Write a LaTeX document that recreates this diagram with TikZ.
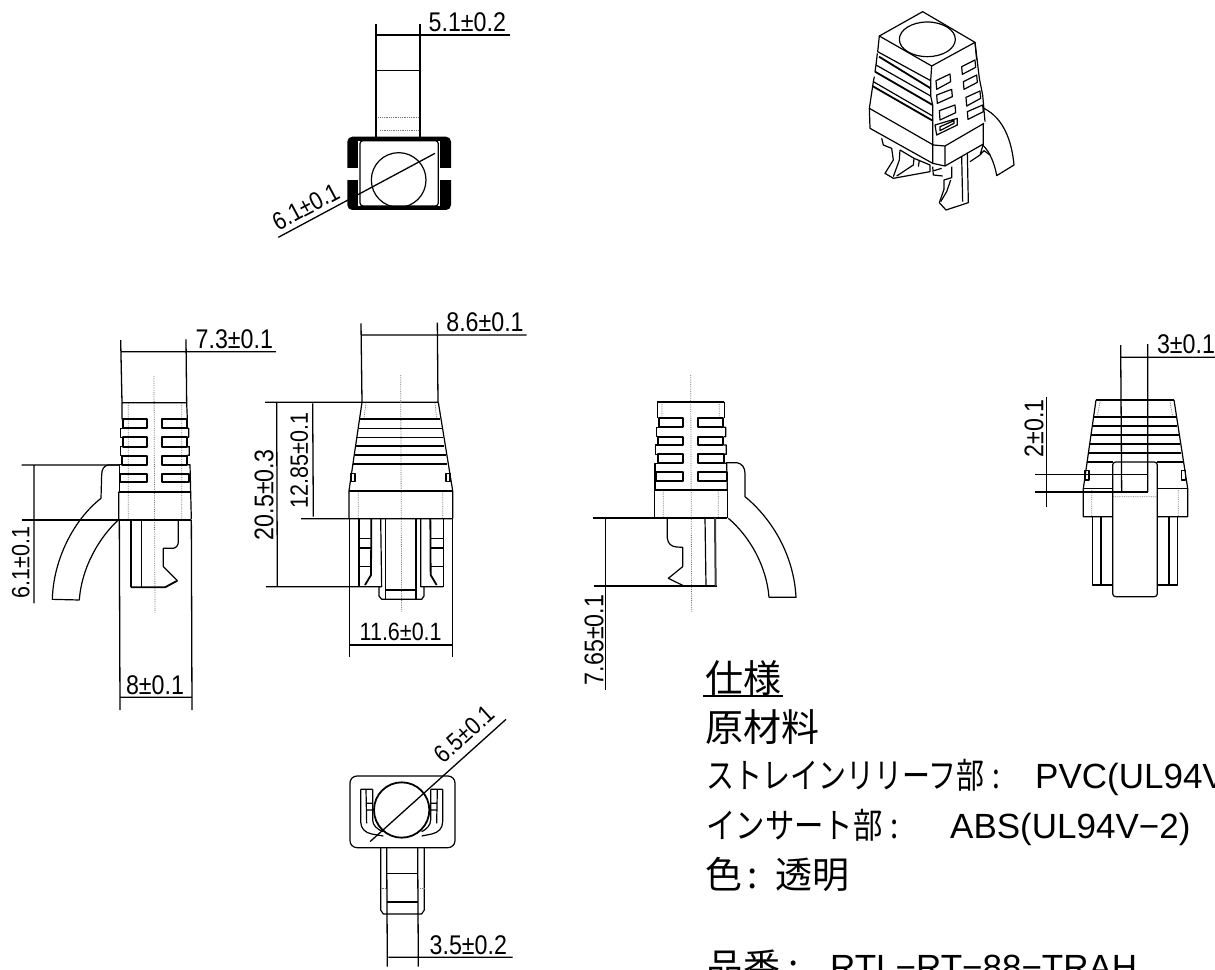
\documentclass[tikz,border=0pt]{standalone}
\usepackage{fontspec}
\setmainfont{Liberation Sans}
\newfontfamily\dimf[FakeStretch=0.86]{Liberation Sans}
\newfontfamily\cjk{Noto Sans CJK JP}
\newfontfamily\cjkn[FakeStretch=0.8]{Noto Sans CJK JP}
\newfontfamily\cjkm[FakeStretch=0.84]{Noto Sans CJK JP}
\tikzset{
 ln/.style={line width=1.2pt,black,line join=round},
 hv/.style={line width=1.8pt,black,line join=round},
 dl/.style={line width=1.3pt,black},
 cl/.style={line width=.8pt,black!55,densely dotted},
 lbl/.style={inner sep=0pt,font=\dimf\fontsize{27}{27}\selectfont},
 lbs/.style={inner sep=0pt,font=\dimf\fontsize{25}{27}\selectfont},
 spec/.style={inner sep=0pt,anchor=base west},
 pv/.style={shift={(#1)},scale=1/3},
}
\begin{document}
\begin{tikzpicture}[x=1pt,y=-1pt]
\path[use as bounding box,clip] (0,0) rectangle (1215,969);
\fill[white] (0,0) rectangle (1215,969);

% ---- top view
\begin{scope}[pv={260,0}]
\draw[dl] (348,72)--(348,410) (480,72)--(480,410) (348,105)--(750,105);
\draw[ln] (352,211)--(482,211);
\draw[cl] (355,352)--(475,352) (360,392)--(475,392);
\fill[black,rounded corners=5pt] (262,410) rectangle (573,630);
\fill[white] (295,422) rectangle (540,618);
\fill[white] (258,505) rectangle (298,540);
\fill[white] (537,505) rectangle (577,540);
\draw[ln,fill=white,rounded corners=3pt] (300,422) rectangle (535,618);
\draw[ln] (416,540) circle [radius=82];
\draw[dl] (525,460)--(55,712);
\node[lbl] (t51) at (622,66) {5.1±0.2};
\node[lbs,rotate=28] (t61) at (137,620) {6.1±0.1};
\end{scope}

% ---- 3D view
\begin{scope}[pv={840,10}]
\draw[ln] (118,78)--(248,5)--(405,97)--(275,168)--cycle;
\draw[ln] (262,88) ellipse [x radius=84,y radius=52];
\draw[ln] (118,78)--(113,125)--(272,212)--(275,168) (405,97)--(410,150);
\draw[hv] (117,140)--(272,235);
\draw[ln] (112,130)--(108,165)--(272,258)--(272,212);
\draw[hv] (105,185)--(278,285);
\draw[ln] (108,165)--(105,185) (272,258)--(278,285);
\draw[ln] (103,200)--(100,215)--(278,318);
\draw[hv] (97,228)--(278,332);
\draw[ln] (100,215)--(88,295)--(280,405);
\draw[ln] (88,295)--(90,355)--(278,460)--(315,468)--(430,402)--(430,340);
\draw[ln] (278,285)--(278,460) (315,408)--(315,468) (280,405)--(315,408)--(432,340);
\draw[ln] (405,97)--(412,155)--(418,205)--(428,255)--(435,335);
\foreach \a/\b/\c/\d/\e/\f/\g/\h in {365/170/405/150/407/172/367/193,370/215/410/195/412/217/372/238,378/262/420/243/422/265/380/288,382/305/428/285/430/305/384/328,288/212/330/192/332/215/290/238,290/255/335/238/337/260/292/280,298/302/345/285/347/308/300/330}
 \draw[ln] (\a,\b)--(\c,\d)--(\e,\f)--(\g,\h)--cycle;
\draw[ln] (285,345)--(352,325)--(352,345)--(290,375)--cycle (300,350)--(342,332)--(342,340)--(300,362)--cycle;
\draw[ln] (432,295) .. controls (490,325) and (515,390) .. (522,465)--(470,497) .. controls (465,465) and (450,425) .. (428,405);
\draw[ln] (420,435)--(432,422)--(450,435) (430,402)--(420,435)--(390,455);
\draw[ln] (382,428)--(385,578)--(318,600)--(298,578)--(312,538)--(312,510)--(335,503)--(335,470);
\draw[ln] (365,440)--(368,575) (302,575)--(320,545)--(332,510);
\draw[ln] (278,470)--(280,495)--(308,498) (282,482)--(305,475);
\draw[ln] (125,385)--(130,405)--(155,415)--(160,450)--(135,490)--(160,505)--(270,485)--(270,465)--(222,445)--(180,420);
\draw[ln] (180,420)--(178,450)--(160,500) (222,445)--(220,465)--(170,498) (238,450)--(235,470);
\end{scope}

% ---- left view
\begin{scope}[pv={0,320}]
\draw[dl] (362,60)--(366,248) (558,58)--(560,248) (366,95)--(828,95);
\draw[cl] (462,168)--(465,880) (385,250)--(385,598) (545,250)--(545,598);
\draw[ln] (366,248)--(560,248) (366,248)--(366,298) (560,248)--(562,298);
\draw[hv] (368,298) rectangle (441,325) (368,352) rectangle (441,380) (365,408) rectangle (441,434) (360,462) rectangle (441,487);
\draw[hv] (485,298) rectangle (560,325) (485,352) rectangle (560,380) (485,408) rectangle (562,434) (487,462) rectangle (568,487);
\draw[ln] (368,325)--(362,325)--(362,352)--(368,352) (366,380)--(362,380)--(362,406)--(366,406) (364,434)--(358,434)--(358,515);
\draw[ln] (560,325)--(566,325)--(566,352)--(560,352) (562,380)--(568,380)--(568,406)--(562,406) (562,434)--(570,434)--(572,515);
\draw[hv] (356,515)--(572,515);
\draw[ln] (356,515)--(356,598) (572,515)--(574,598);
\draw[hv] (65,600)--(574,600);
\draw[dl] (65,435)--(360,435) (102,435)--(102,850) (358,600)--(360,1170) (574,600)--(576,1170) (360,1132)--(576,1132);
\draw[ln] (360,435)--(325,435) .. controls (312,437) and (305,447) .. (305,465)--(303,535) .. controls (220,600) and (160,720) .. (157,838)--(238,840) .. controls (245,740) and (300,650) .. (355,600);
\draw[hv] (392,600)--(392,802);
\draw[ln] (425,600)--(425,802);
\draw[hv] (392,802)--(495,802)--(532,782);
\draw[ln] (532,782)--(490,740)--(490,685)--(520,685) .. controls (530,683) and (535,675) .. (535,665)--(535,600);
\node[lbl] (t73) at (703,58) {7.3±0.1};
\node[lbs,rotate=90] (t61b) at (62,728) {6.1±0.1};
\node[lbl] (t8) at (465,1097) {8±0.1};
\end{scope}

% ---- front view
\begin{scope}[pv={240,300}]
\draw[dl] (363,70)--(366,307) (592,68)--(594,307) (366,105)--(860,105);
\draw[dl] (75,307)--(595,307) (110,307)--(112,860) (218,310)--(220,650) (183,656)--(638,656) (78,860)--(420,860);
\draw[cl] (482,225)--(485,935) (355,575)--(355,656) (608,575)--(608,656) (378,310)--(372,355) (585,310)--(590,355);
\draw[ln] (366,307)--(327,572)--(327,656) (595,307)--(638,572)--(638,656);
\draw[hv] (327,572)--(638,572) (360,357)--(600,357);
\draw[ln] (356,385)--(605,385) (352,412)--(609,412) (349,438)--(613,438) (345,465)--(617,465);
\draw[hv] (340,492)--(622,492);
\draw[ln] (333,520) rectangle (345,545) (618,520) rectangle (630,545);
\draw[dl] (329,656)--(329,1070) (638,656)--(638,1070) (329,1035)--(638,1035);
\draw[ln] (357,656)--(357,860) (610,656)--(610,860);
\draw[hv] (394,656)--(393,825)--(375,855) (571,656)--(572,825)--(590,855);
\draw[ln] (357,715)--(393,715) (357,800)--(390,800) (572,715)--(610,715) (572,800)--(610,800);
\draw[hv] (357,743)--(393,743) (572,743)--(610,743);
\draw[ln] (610,860)--(542,860) (422,656)--(425,860)--(417,860)--(417,888)--(425,898)--(545,898)--(552,888)--(552,860)--(542,860)--(542,656);
\draw[ln] (437,656)--(437,898) (528,656)--(528,898) (437,870)--(528,870);
\node[lbl] (t86) at (735,68) {8.6±0.1};
\node[lbl,rotate=90] (t205) at (72,585) {20.5±0.3};
\node[lbs,rotate=90] (t1285) at (178,482) {12.85±0.1};
\node[lbs] (t116) at (482,995) {11.6±0.1};
\end{scope}

% ---- right view
\begin{scope}[pv={570,340}]
\draw[cl] (362,105)--(365,815) (276,187)--(276,233) (448,187)--(448,233) (280,452)--(280,530) (445,452)--(445,530);
\draw[hv] (262,185)--(463,185);
\draw[ln] (262,185)--(262,235) (463,185)--(463,235);
\draw[hv] (267,235) rectangle (338,262) (265,290) rectangle (338,315) (263,343) rectangle (340,370) (258,397) rectangle (340,423);
\draw[hv] (385,235) rectangle (460,262) (385,290) rectangle (460,315) (385,343) rectangle (463,370) (385,397) rectangle (470,423);
\draw[ln] (267,262)--(260,262)--(260,290)--(265,290) (263,315)--(257,315)--(257,343)--(263,343) (263,370)--(255,370)--(255,450);
\draw[ln] (460,262)--(467,262)--(467,290)--(462,290) (462,315)--(469,315)--(469,343)--(463,343) (463,370)--(470,370)--(472,450);
\draw[hv] (254,450)--(472,450);
\draw[ln] (254,450)--(254,533) (472,450)--(472,533);
\draw[hv] (70,533)--(472,533) (72,738)--(440,738);
\draw[ln] (468,368)--(500,368) .. controls (515,370) and (525,382) .. (525,400)--(525,470) .. controls (610,540) and (672,650) .. (678,772)--(597,772) .. controls (590,680) and (540,590) .. (475,535);
\draw[dl] (107,533)--(107,1050);
\draw[ln] (292,533)--(292,595) .. controls (294,612) and (305,620) .. (320,621)--(338,622)--(338,680)--(295,715)--(342,738);
\draw[ln] (405,533)--(408,738);
\draw[line width=2pt,black!75] (435,533)--(437,738);
\node[lbl,rotate=90] (t765) at (72,900) {7.65±0.1};
\end{scope}

% ---- back view
\begin{scope}[pv={1010,320}]
\draw[dl] (332,75)--(335,516) (413,72)--(413,516) (335,112)--(615,112);
\draw[cl] (270,245)--(262,290) (480,245)--(488,290) (245,510)--(245,588) (505,510)--(505,588) (310,530)--(440,530);
\draw[ln] (258,240)--(220,505)--(220,590)--(308,590) (492,240)--(533,505)--(533,590)--(442,590);
\draw[ln] (258,240)--(492,240) (250,291)--(498,291) (246,318)--(502,318) (242,345)--(506,345) (238,372)--(510,372) (235,399)--(514,399) (231,426)--(308,426) (442,426)--(518,426);
\draw[ln] (220,505)--(308,505) (442,505)--(533,505);
\draw[ln] (225,452) rectangle (237,480) (515,452) rectangle (527,480);
\draw[ln,rounded corners=3pt] (308,426)--(442,426)--(442,830)--(308,830)--cycle;
\draw[ln] (248,590)--(248,795)--(308,795) (503,590)--(503,795)--(442,795);
\draw[hv] (272,590)--(272,795) (478,590)--(478,795);
\draw[dl] (75,463)--(413,463) (75,516)--(413,516) (110,232)--(110,560);
\node[lbl] (t3) at (528,72) {3±0.1};
\node[lbl,rotate=90] (t2) at (72,325) {2±0.1};
\end{scope}

% ---- bottom view
\begin{scope}[pv={330,700}]
\draw[ln,rounded corners=7pt] (60,228) rectangle (375,443);
\draw[ln] (92,268)--(128,268) (92,268)--(92,365) .. controls (92,385) and (105,398) .. (125,402)--(160,408);
\draw[ln] (128,268)--(128,360) .. controls (128,375) and (140,388) .. (160,395);
\draw[ln] (108,268)--(110,370) (110,310)--(128,310) (110,330)--(128,330);
\draw[ln] (338,268)--(302,268) (338,268)--(338,365) .. controls (338,385) and (325,398) .. (305,402)--(275,408);
\draw[ln] (302,268)--(302,360) .. controls (302,375) and (290,388) .. (275,395);
\draw[ln] (322,268)--(320,370) (302,310)--(320,310) (302,330)--(320,330);
\draw[hv] (215,330) circle [radius=83];
\draw[dl] (528,58)--(120,425);
\draw[ln] (152,443)--(152,630)--(160,642)--(275,642)--(283,630)--(283,443);
\draw[dl] (170,443)--(172,800) (263,443)--(265,800) (175,772)--(548,772);
\draw[ln] (170,520)--(263,520);
\draw[hv] (170,605)--(263,605);
\draw[cl] (155,565)--(170,565) (265,565)--(282,565);
\node[lbs,rotate=42] (t65) at (403,103) {6.5±0.1};
\node[lbl] (t35) at (415,735) {3.5±0.2};
\end{scope}

% ---- specification text
\node[spec,font=\cjk\fontsize{38}{38}\selectfont] (s1) at (705,692) {仕様};
\draw[line width=1.5pt] (703,696)--(783,696);
\node[spec,font=\cjk\fontsize{38}{38}\selectfont] (s2) at (705,741) {原材料};
\node[spec,font=\cjkn\fontsize{35}{35}\selectfont] (s3a) at (706,788) {ストレインリリーフ部\hspace{8pt}:};
\node[spec,font=\fontsize{35}{35}\selectfont] (s3b) at (1035,788) {PVC(UL94V−0)};
\node[spec,font=\cjkm\fontsize{35}{35}\selectfont] (s4a) at (706,838) {インサート部\hspace{8pt}:};
\node[spec,font=\fontsize{35}{35}\selectfont] (s4b) at (950,838) {ABS(UL94V−2)};
\node[spec,font=\cjk\fontsize{37}{37}\selectfont] (s5) at (705,888) {色\hspace{5pt}:\hspace{18pt}透明};
\node[spec,font=\cjk\fontsize{37}{37}\selectfont] (s6a) at (706,980) {品番\hspace{8pt}:};
\node[spec,font=\fontsize{35}{35}\selectfont] (s6b) at (830,979) {RTL−RT−88−TRAH};
\end{tikzpicture}
\end{document}
